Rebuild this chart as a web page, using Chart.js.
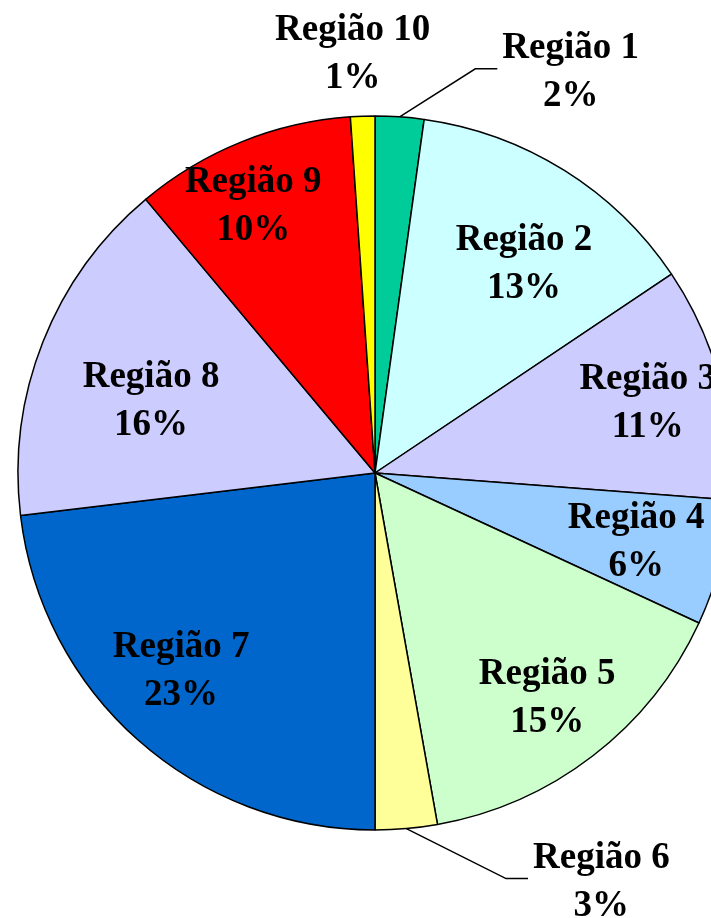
<!DOCTYPE html>
<html>
<head>
<meta charset="utf-8">
<script src="https://cdn.jsdelivr.net/npm/chart.js@4/dist/chart.umd.min.js"></script>
<style>
  html, body { margin: 0; padding: 0; background: #ffffff; overflow: hidden; }
  #wrap { width: 711px; height: 918px; position: relative; }
</style>
</head>
<body>
<div id="wrap"><canvas id="c" width="711" height="918"></canvas></div>
<script>
// ---- data ----
const regions = ['Região 1', 'Região 2', 'Região 3', 'Região 4', 'Região 5',
                 'Região 6', 'Região 7', 'Região 8', 'Região 9', 'Região 10'];
const shares = [2.2, 13.4, 10.6, 5.7, 15.3, 2.8, 23.1, 15.8, 10.0, 1.1];
const sliceColors = ['#00CC99', '#CCFFFF', '#CCCCFF', '#99CCFF', '#CCFFCC',
                     '#FFFF99', '#0066CC', '#CCCCFF', '#FF0000', '#FFFF00'];

// ---- label layout (styling, not data) ----
const labelFont = 'bold 37px "Liberation Serif", "Times New Roman", serif';
const lineGap = 48;
// inside labels: fraction of radius and angular nudge (degrees) from the slice bisector
const insideLabels = {
  1: {f: 0.7235, da: 3.2},
  2: {f: 0.79, da: 0},
  3: {f: 0.756, da: 0},
  4: {f: 0.79, da: 0},
  6: {f: 0.7725, da: 3.1},
  7: {f: 0.660, da: -3.5},
  8: {f: 0.827, da: -2.4}
};
// outside labels: offset of the label block centre from the slice's outer mid-point
const outsideLabels = {
  0: {dx: 171, dy: -46, leader: true},
  5: {dx: 195, dy: 52, leader: true},
  9: {dx: -10, dy: -64, leader: false}
};

const labelPlugin = {
  id: 'sliceLabels',
  afterDatasetsDraw(chart) {
    const ctx = chart.ctx;
    const meta = chart.getDatasetMeta(0);
    const data = chart.data.datasets[0].data;
    const total = data.reduce((a, b) => a + b, 0);
    ctx.save();
    ctx.font = labelFont;
    ctx.fillStyle = '#000000';
    ctx.textAlign = 'center';
    ctx.textBaseline = 'alphabetic';
    meta.data.forEach((arc, i) => {
      const p = arc.getProps(['x', 'y', 'startAngle', 'endAngle', 'outerRadius'], true);
      const mid = (p.startAngle + p.endAngle) / 2;
      const pct = Math.round(data[i] / total * 100) + '%';
      const name = chart.data.labels[i];
      let cx, cy;
      if (outsideLabels[i]) {
        const o = outsideLabels[i];
        const ex = p.x + Math.cos(mid) * p.outerRadius;
        const ey = p.y + Math.sin(mid) * p.outerRadius;
        cx = ex + o.dx;
        cy = ey + o.dy;
        if (o.leader) {
          const w = ctx.measureText(name).width;
          const left = cx - w / 2;
          const ly = cy - 2;
          ctx.beginPath();
          ctx.strokeStyle = '#000000';
          ctx.lineWidth = 1.5;
          ctx.moveTo(ex, ey);
          ctx.lineTo(left - 27, ly);
          ctx.lineTo(left - 5, ly);
          ctx.stroke();
        }
      } else {
        const L = insideLabels[i] || {f: 0.76, da: 0};
        const a = mid + L.da * Math.PI / 180;
        cx = p.x + Math.cos(a) * p.outerRadius * L.f;
        cy = p.y + Math.sin(a) * p.outerRadius * L.f;
      }
      ctx.fillText(name, cx, cy - 12.5);
      ctx.fillText(pct, cx, cy - 12.5 + lineGap);
    });
    ctx.restore();
  }
};

new Chart(document.getElementById('c'), {
  type: 'pie',
  data: {
    labels: regions,
    datasets: [{
      data: shares,
      backgroundColor: sliceColors,
      borderColor: '#000000',
      borderWidth: 1.5,
      radius: 357,
      clip: false
    }]
  },
  options: {
    responsive: false,
    animation: false,
    layout: { padding: { left: 39, top: 28, right: 0, bottom: 0 } },
    plugins: {
      legend: { display: false },
      tooltip: { enabled: false }
    }
  },
  plugins: [labelPlugin]
});
</script>
</body>
</html>
